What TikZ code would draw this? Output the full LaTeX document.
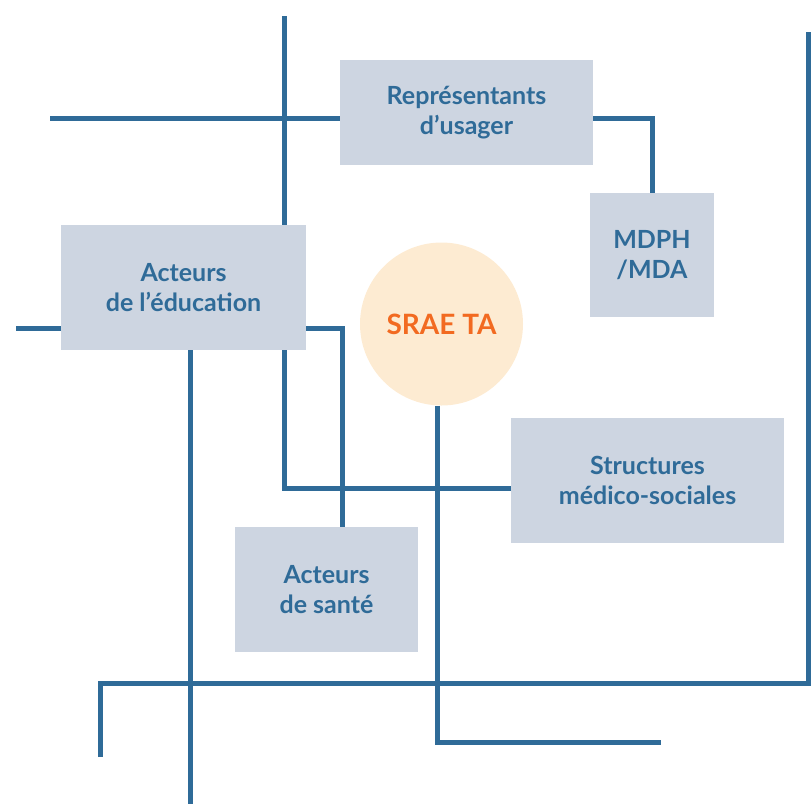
\documentclass[tikz,border=0pt]{standalone}
\usepackage{fontspec}
\setmainfont{Lato}
\usetikzlibrary{calc}
\definecolor{lineblue}{HTML}{2F6B98}
\definecolor{boxgray}{HTML}{CDD5E1}
\definecolor{circfill}{HTML}{FDEBD2}
\definecolor{srorange}{HTML}{F26A21}
\pgfdeclarelayer{background}
\pgfsetlayers{background,main}
\tikzset{
  actor/.style={rectangle, fill=boxgray, text=lineblue, inner sep=0pt, align=center,
    font=\fontsize{25}{30}\selectfont\bfseries},
  link/.style={draw=lineblue, line width=5pt}
}
\begin{document}
\begin{tikzpicture}[x=1pt, y=-1pt]
    \useasboundingbox (0,0) rectangle (811,804);

    % Define nodes for the partners
    \node[actor, minimum width=253pt, minimum height=105pt] (rep) at (466.5,112.5) {Représentants\\d’usager};
    \node[actor, minimum width=124pt, minimum height=124pt] (mdph) at (652,255) {MDPH\\/MDA};
    \node[actor, minimum width=245pt, minimum height=125pt] (edu) at (183.5,287.5) {Acteurs\\de l’éducation};
    \node[actor, minimum width=273pt, minimum height=125pt] (str) at (647.5,480.5) {Structures\\médico-sociales};
    \node[actor, minimum width=183pt, minimum height=125pt] (sante) at (326.5,589.5) {Acteurs\\de santé};
    \node[circle, fill=circfill, text=srorange, inner sep=0pt, minimum size=163pt,
      font=\fontsize{28}{32}\selectfont\bfseries] (srae) at (441.5,324) {SRAE TA};

    % Free ends of the lines
    \coordinate (top) at (284,16);
    \coordinate (left1) at (50,118);
    \coordinate (left2) at (16,328);
    \coordinate (bottom) at (190,804);
    \coordinate (end1) at (661,742);
    \coordinate (end2) at (100,757);
    \coordinate (end3) at (808,32);

    % Draw edges
    \begin{pgfonlayer}{background}
    \draw[link] (top) |- ([yshift=-7.5pt]str.west);
    \draw[link] (left1) -| (mdph.north);
    \draw[link] (left2) -| ([xshift=15.5pt]sante.north);
    \draw[link] ([xshift=6.5pt]edu.south) -- (bottom);
    \draw[link] ([xshift=-4.5pt]srae.south) |- (end1);
    \draw[link] (end2) |- (808,683) -- (end3);
    \end{pgfonlayer}

\end{tikzpicture}
\end{document}
